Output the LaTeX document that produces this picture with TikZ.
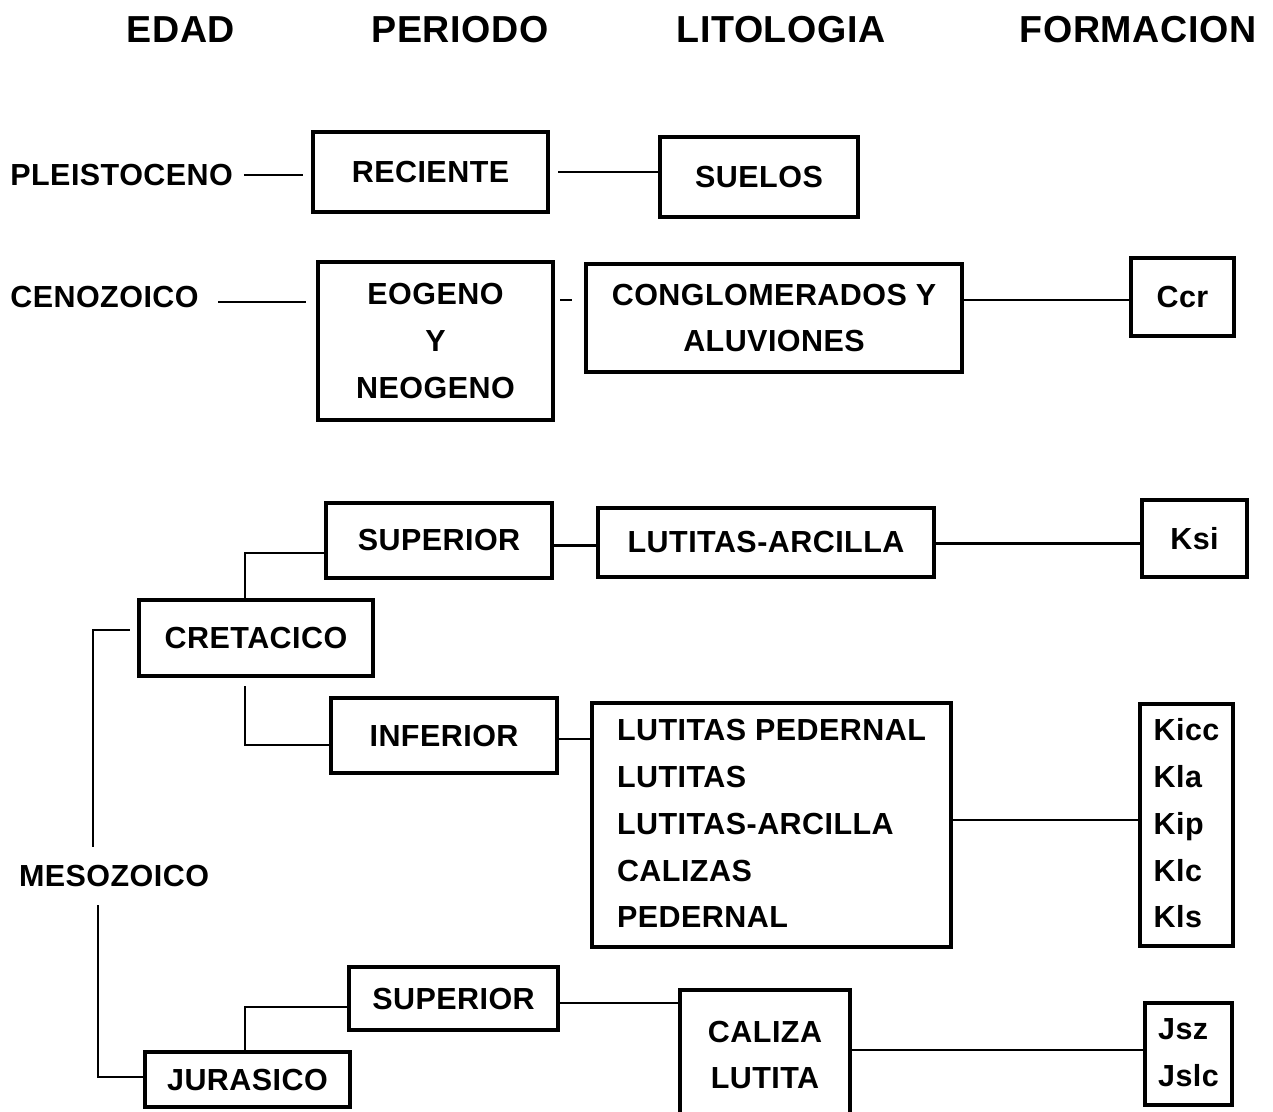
\documentclass[tikz,border=0pt]{standalone}
\usepackage{fontspec}
\setmainfont{Liberation Sans}[LetterSpace=1.5]
\usetikzlibrary{calc}
\newcommand\bodyfont{\fontsize{17.35}{26.6}\selectfont\bfseries}
\newcommand\headfont{\fontsize{21.4}{26}\selectfont\bfseries}
\tikzset{
  bx/.style 2 args={draw, line width=2.4pt, minimum width=#1*0.02cm, minimum height=#2*0.02cm, inner sep=0pt, font=\bodyfont, align=center},
  lbl/.style={inner sep=0pt, font=\bodyfont},
  hdr/.style={inner sep=0pt, font=\headfont},
  conn/.style={line width=1.6pt},
}
\begin{document}
\begin{tikzpicture}[x=0.02cm,y=-0.02cm]
\useasboundingbox (0,0) rectangle (1273,1111);
% headers
\node[hdr] (hEdad) at (181,30) {EDAD};
\node[hdr] (hPer) at (460,30) {PERIODO};
\node[hdr] (hLit) at (781,30) {LITOLOGIA};
\node[hdr] (hFor) at (1138,30) {FORMACION};
% row 1
\node[lbl, anchor=west] (pleis) at (10,175) {PLEISTOCENO};
\node[bx={235}{80}] (rec) at (430.5,172) {RECIENTE};
\node[bx={198}{80}] (sue) at (759,177) {SUELOS};
\draw[conn, shorten <=6pt, shorten >=4.5pt] (pleis.east) -- (pleis.east -| rec.west);
\draw[conn, shorten <=4.5pt] (rec.east) -- (rec.east -| sue.west);
% row 2
\node[lbl, anchor=west] (ceno) at (10,297) {CENOZOICO};
\node[bx={235}{158}] (eog) at (435.5,341) {EOGENO\\Y\\NEOGENO};
\node[bx={376}{108}] (cong) at (774,318) {CONGLOMERADOS Y\\ALUVIONES};
\node[bx={103}{78}] (ccr) at (1182.5,297) {Ccr};
\draw[conn, shorten <=11pt, shorten >=5.5pt] ($(ceno.east)+(0,5)$) -- ($(ceno.east -| eog.west)+(0,5)$);
\draw[conn, shorten <=3pt, shorten >=6.5pt] ($(eog.east |- cong)+(0,-18)$) -- ($(cong.west)+(0,-18)$);
\draw[conn] ($(cong.east |- ccr)+(0,3)$) -- ($(ccr.west)+(0,3)$);
% cretacico
\node[bx={226}{75}] (supK) at (439,540.5) {SUPERIOR};
\node[bx={336}{69}] (lutA) at (766,542.5) {LUTITAS-ARCILLA};
\node[bx={105}{77}] (ksi) at (1194.5,538.5) {Ksi};
\node[bx={234}{76}] (cret) at (256,638) {CRETACICO};
\node[bx={226}{75}] (infK) at (444,735.5) {INFERIOR};
\node[bx={359}{244}] (litK) at (771.5,825) {\begin{tabular}{@{}l@{}}LUTITAS PEDERNAL\\LUTITAS\\LUTITAS-ARCILLA\\CALIZAS\\PEDERNAL\end{tabular}};
\node[bx={93}{242}] (kbox) at (1186.5,825) {\begin{tabular}{@{}l@{}}Kicc\\Kla\\Kip\\Klc\\Kls\end{tabular}};
\draw[conn] ($(supK.east)+(0,5)$) -- ($(supK.east -| lutA.west)+(0,5)$);
\draw[conn] ($(lutA.east |- ksi)+(0,5)$) -- ($(ksi.west)+(0,5)$);
\draw[conn] ($(cret.north)+(-11,0)$) |- ($(supK.west)+(0,12.5)$);
\draw[conn] ($(cret.south)+(-11,8)$) |- ($(infK.west)+(0,9.5)$);
\draw[conn] ($(infK.east)+(0,3.5)$) -- ($(infK.east -| litK.west)+(0,3.5)$);
\draw[conn] ($(litK.east)+(0,-5)$) -- ($(litK.east -| kbox.west)+(0,-5)$);
% mesozoico
\node[lbl] (meso) at (114,876) {MESOZOICO};
\node[bx={205}{55}] (jur) at (247.5,1079.5) {JURASICO};
\node[bx={209}{63}] (supJ) at (453.5,998.5) {SUPERIOR};
\node[bx={170}{130}] (cal) at (765,1055) {CALIZA\\LUTITA};
\node[bx={87}{102}] (jbox) at (1188.5,1054) {\begin{tabular}{@{}l@{}}Jsz\\Jslc\end{tabular}};
\draw[conn, shorten <=4pt] ($(cret.west)+(0,-8)$) -| ($(meso.north)+(-21,-18)$);
\draw[conn] ($(meso.south)+(-16,18)$) |- ($(jur.west)+(0,-2.5)$);
\draw[conn] ($(jur.north)+(-2.5,0)$) |- ($(supJ.west)+(0,8.5)$);
\draw[conn] ($(supJ.east)+(0,4.5)$) -- ($(supJ.east -| cal.west)+(0,4.5)$);
\draw[conn] ($(cal.east |- jbox)+(0,-4)$) -- ($(jbox.west)+(0,-4)$);
\end{tikzpicture}
\end{document}
